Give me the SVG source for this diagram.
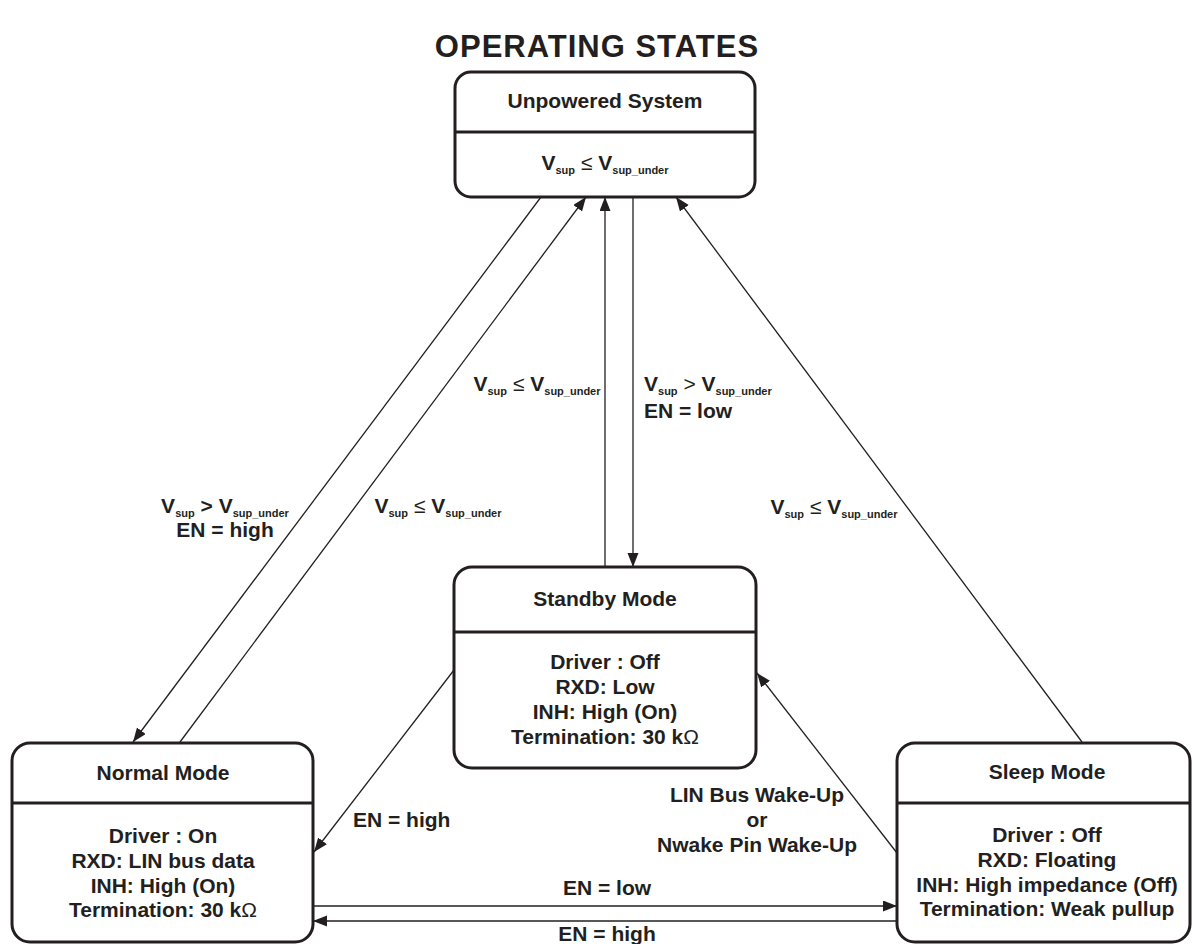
<svg xmlns="http://www.w3.org/2000/svg" width="1192" height="944" viewBox="0 0 1192 944">
<style>
text{font-family:"Liberation Sans",Arial,sans-serif;font-weight:bold;fill:#231f20;font-size:21px}
.title{font-size:31px;letter-spacing:1px}
.c{text-anchor:middle}
.sub{font-size:11px}
.sym{font-weight:normal}
.box{fill:#fff;stroke:#231f20;stroke-width:3}
.div{stroke:#231f20;stroke-width:3}
.conn line{stroke:#231f20;stroke-width:1.3;fill:none;marker-end:url(#arr)}
</style>
<defs>
<marker id="arr" markerUnits="userSpaceOnUse" markerWidth="15" markerHeight="12" refX="14" refY="5.5" orient="auto">
<path d="M0,0 L14,5.5 L0,11 z" fill="#231f20"/>
</marker>
</defs>
<rect width="1192" height="944" fill="#fff"/>
<text class="title c" x="597" y="57">OPERATING STATES</text>

<g class="conn" id="connectors">
<line x1="541" y1="197" x2="133" y2="742"/>
<line x1="180" y1="742" x2="586" y2="197"/>
<line x1="605" y1="567" x2="605" y2="197"/>
<line x1="633" y1="197" x2="633" y2="567"/>
<line x1="1082" y1="742" x2="676" y2="197"/>
<line x1="454" y1="670" x2="314" y2="852"/>
<line x1="897" y1="853" x2="757" y2="673"/>
<line x1="313" y1="906" x2="897" y2="906"/>
<line x1="897" y1="921" x2="313" y2="921"/>
</g>

<g id="unpowered">
<rect class="box" x="455" y="72" width="300" height="125" rx="16"/>
<line class="div" x1="455" y1="132" x2="755" y2="132"/>
<text class="c" x="605" y="108">Unpowered System</text>
<text class="c" x="605" y="170">V<tspan class="sub" dy="4">sup</tspan><tspan class="sym" dy="-4"> ≤ </tspan>V<tspan class="sub" dy="4">sup_under</tspan></text>
</g>

<g id="standby">
<rect class="box" x="454" y="567" width="302" height="201" rx="18"/>
<line class="div" x1="454" y1="632" x2="756" y2="632"/>
<text class="c" x="605" y="606">Standby Mode</text>
<text class="c" x="605" y="669">Driver : Off</text>
<text class="c" x="605" y="694">RXD: Low</text>
<text class="c" x="605" y="719">INH: High (On)</text>
<text class="c" x="605" y="744">Termination: 30 k<tspan class="sym">Ω</tspan></text>
</g>

<g id="normal">
<rect class="box" x="12" y="743" width="301" height="199" rx="18"/>
<line class="div" x1="12" y1="803" x2="313" y2="803"/>
<text class="c" x="163" y="780">Normal Mode</text>
<text class="c" x="163" y="843">Driver : On</text>
<text class="c" x="163" y="868">RXD: LIN bus data</text>
<text class="c" x="163" y="893">INH: High (On)</text>
<text class="c" x="163" y="917">Termination: 30 k<tspan class="sym">Ω</tspan></text>
</g>

<g id="sleep">
<rect class="box" x="897" y="743" width="293" height="199" rx="18"/>
<line class="div" x1="897" y1="803" x2="1190" y2="803"/>
<text class="c" x="1047" y="779">Sleep Mode</text>
<text class="c" x="1047" y="842">Driver : Off</text>
<text class="c" x="1047" y="867">RXD: Floating</text>
<text class="c" x="1047" y="892">INH: High impedance (Off)</text>
<text class="c" x="1047" y="916">Termination: Weak pullup</text>
</g>

<g id="labels">
<text class="c" x="537" y="391">V<tspan class="sub" dy="4">sup</tspan><tspan class="sym" dy="-4"> ≤ </tspan>V<tspan class="sub" dy="4">sup_under</tspan></text>
<text x="644" y="391">V<tspan class="sub" dy="4">sup</tspan><tspan class="sym" dy="-4"> &gt; </tspan>V<tspan class="sub" dy="4">sup_under</tspan></text>
<text x="644" y="418">EN = low</text>
<text class="c" x="225" y="513">V<tspan class="sub" dy="4">sup</tspan><tspan dy="-4"> &gt; </tspan>V<tspan class="sub" dy="4">sup_under</tspan></text>
<text class="c" x="225" y="537">EN = high</text>
<text class="c" x="438" y="513">V<tspan class="sub" dy="4">sup</tspan><tspan class="sym" dy="-4"> ≤ </tspan>V<tspan class="sub" dy="4">sup_under</tspan></text>
<text class="c" x="834" y="514">V<tspan class="sub" dy="4">sup</tspan><tspan class="sym" dy="-4"> ≤ </tspan>V<tspan class="sub" dy="4">sup_under</tspan></text>
<text x="353" y="827">EN = high</text>
<text class="c" x="757" y="802">LIN Bus Wake-Up</text>
<text class="c" x="757" y="827">or</text>
<text class="c" x="757" y="852">Nwake Pin Wake-Up</text>
<text class="c" x="607" y="895">EN = low</text>
<text class="c" x="607" y="941">EN = high</text>
</g>
</svg>
